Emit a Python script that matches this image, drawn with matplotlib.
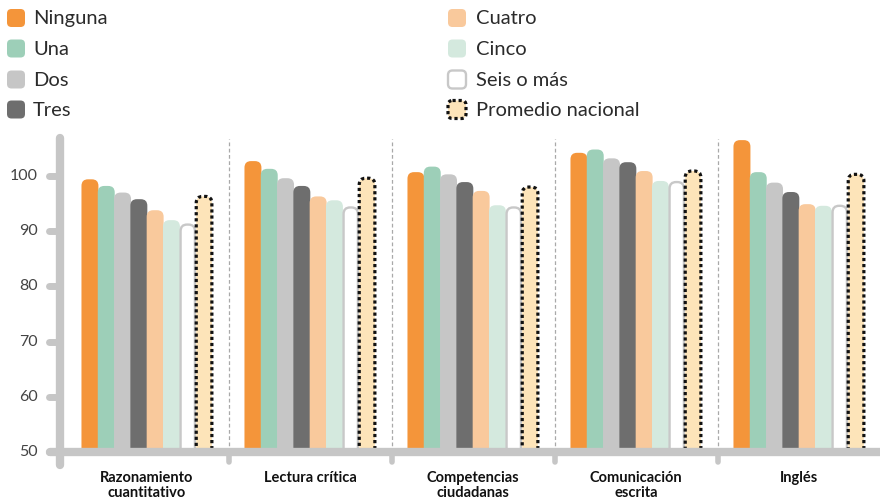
import matplotlib
matplotlib.use("Agg")
import matplotlib.pyplot as plt
from matplotlib.patches import FancyBboxPatch
from matplotlib.lines import Line2D

plt.rcParams['font.family'] = ['Lato', 'DejaVu Sans']

categories = ["Razonamiento\ncuantitativo", "Lectura crítica", "Competencias\nciudadanas",
              "Comunicación\nescrita", "Inglés"]
series = ["Ninguna", "Una", "Dos", "Tres", "Cuatro", "Cinco", "Seis o más", "Promedio nacional"]
ninguna = [99.4, 102.7, 100.7, 104.2, 106.5]
una = [98.2, 101.3, 101.7, 104.8, 100.7]
dos = [97.0, 99.6, 100.3, 103.2, 98.8]
tres = [95.8, 98.2, 98.9, 102.5, 97.1]
cuatro = [93.8, 96.3, 97.3, 100.9, 94.9]
cinco = [92.0, 95.6, 94.7, 99.1, 94.6]
seis = [91.2, 94.3, 94.3, 98.9, 94.6]
promedio = [96.3, 99.6, 98.0, 100.9, 100.3]
yticks = [50, 60, 70, 80, 90, 100]

values = [ninguna, una, dos, tres, cuatro, cinco, seis, promedio]
fills = ["#f4953a", "#9dcfb8", "#c6c6c6", "#6e6e6e", "#f9c99c", "#d4e9de", "#ffffff", "#fde4b9"]
edges = [None, None, None, None, None, None, "#c8c8c8", "#111111"]

W, H = 880, 501
fig = plt.figure(figsize=(W / 100, H / 100), dpi=100)

# pixel geometry
ax_left_px, ax_right_px = 60, 880
y50_px, ytop_px = 452, 130
px_per_unit_y = 5.52
group_px = 163.0
first_center_px = 147.0

ax = fig.add_axes([ax_left_px / W, (H - y50_px) / H, (ax_right_px - ax_left_px) / W, (y50_px - ytop_px) / H])
xmin = (ax_left_px - first_center_px) / group_px
xmax = (ax_right_px - first_center_px) / group_px
ymax = 50 + (y50_px - ytop_px) / px_per_unit_y
ax.set_xlim(xmin, xmax)
ax.set_ylim(50, ymax)
ax.axis("off")

offsets = [-0.35 + 0.1 * k for k in range(8)]
widths = [0.104, 0.104, 0.104, 0.104, 0.104, 0.104, 0.088, 0.096]
rx = 6.5 / group_px
aspect = group_px / px_per_unit_y

for k, vals in enumerate(values):
    for i, v in enumerate(vals):
        base = 44
        kw = dict(facecolor=fills[k], zorder=3 + 0.01 * k, clip_on=True)
        if edges[k] is None:
            kw.update(edgecolor="none", linewidth=0)
        elif k == 6:
            kw.update(edgecolor=edges[k], linewidth=1.7)
        else:
            kw.update(edgecolor=edges[k], linewidth=2.3, linestyle=(0, (1, 0.9)), capstyle="butt")
        w = widths[k]
        x0 = i + offsets[k] - w / 2
        p = FancyBboxPatch((x0, base), w, v - base,
                           boxstyle=f"round,pad=0,rounding_size={rx}",
                           mutation_aspect=aspect, **kw)
        ax.add_patch(p)

gray = "#c6c6c6"
lw_axis = 6
# group separators (dashed) and small ticks
for i in range(1, 5):
    xs = i - 0.5
    ax.add_line(Line2D([xs, xs], [50, 50 + (y50_px - 139) / px_per_unit_y], color="#a9a9a9",
                       linewidth=0.9, linestyle=(0, (3, 2)), zorder=2, clip_on=False))
    ax.add_line(Line2D([xs, xs], [50, 50 - 9.5 / px_per_unit_y], color=gray, linewidth=4,
                       solid_capstyle="round", zorder=5, clip_on=False))

# axes lines
ax.add_line(Line2D([xmin - 10 / group_px, xmax + 0.1], [50, 50], color=gray, linewidth=lw_axis,
                   solid_capstyle="round", zorder=6, clip_on=False))
ax.add_line(Line2D([xmin, xmin], [50 - 13 / px_per_unit_y, 50 + (y50_px - 138) / px_per_unit_y],
                   color=gray, linewidth=lw_axis, solid_capstyle="round", zorder=6, clip_on=False))
for t in yticks:
    ax.add_line(Line2D([xmin - 11 / group_px, xmin], [t, t], color=gray, linewidth=5,
                       solid_capstyle="round", zorder=6, clip_on=False))
    ax.text(xmin - 22 / group_px, t, str(t), ha="right", va="center", fontsize=11.5,
            color="#444444", clip_on=False)

for i, c in enumerate(categories):
    ax.text(i, 50 - 19 / px_per_unit_y, c, ha="center", va="top", fontsize=10.5,
            fontweight="bold", color="#111111", linespacing=1.1, clip_on=False)

# legend overlay in pixel coords
lax = fig.add_axes([0, 0, 1, 1], zorder=-1)
lax.set_xlim(0, W)
lax.set_ylim(H, 0)
lax.axis("off")
cols = [(6, 33), (447, 476)]
rows = [18, 48.5, 79.5, 109.5]
for k, name in enumerate(series):
    col = 0 if k < 4 else 1
    r = rows[k % 4]
    bx, tx = cols[col]
    if edges[k] is None:
        kw = dict(edgecolor="none", linewidth=0)
    elif k == 6:
        kw = dict(edgecolor=edges[k], linewidth=1.7)
    else:
        kw = dict(edgecolor=edges[k], linewidth=2.3, linestyle=(0, (1, 0.9)), capstyle="butt")
    sz = 18
    lax.add_patch(FancyBboxPatch((bx + 1, r - sz / 2), sz, sz,
                                 boxstyle="round,pad=0,rounding_size=4.5",
                                 facecolor=fills[k], **kw))
    lax.text(tx, r + 0.5, name, ha="left", va="center", fontsize=14.5, color="#2b2b2b")

fig.savefig("out.png", dpi=100)
